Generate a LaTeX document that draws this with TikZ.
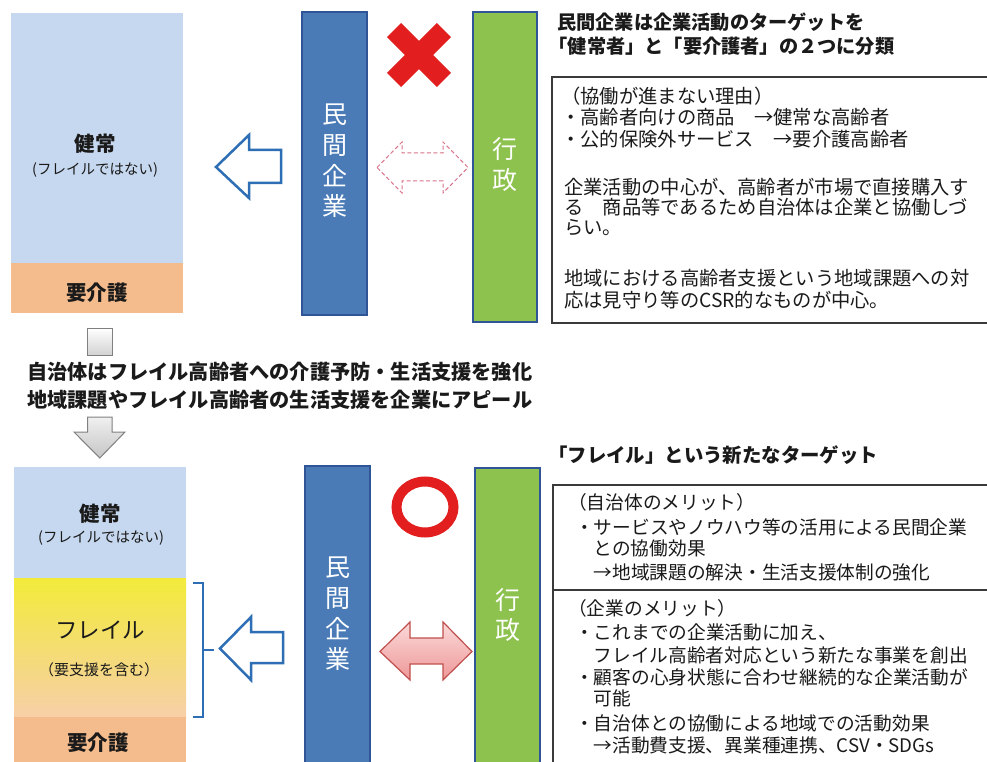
\documentclass[tikz,border=0pt]{standalone}
\usepackage{fontspec}
\setmainfont{Noto Sans CJK JP}
\definecolor{lblue}{HTML}{C6D8EF}
\definecolor{lorange}{HTML}{F4BB8C}
\definecolor{barblue}{HTML}{4A7BB7}
\definecolor{barborder}{HTML}{2F5597}
\definecolor{bargreen}{HTML}{8DC24E}
\definecolor{arrblue}{HTML}{2E6EB5}
\definecolor{xred}{HTML}{E21E1E}
\definecolor{fyellow}{HTML}{F2EB3A}
\definecolor{fpeach}{HTML}{F7CFA8}
\definecolor{dashpink}{HTML}{D9748A}
\definecolor{pinktop}{HTML}{FBD9D9}
\definecolor{pinkbot}{HTML}{EE9898}
\definecolor{pinkline}{HTML}{C0504D}
\definecolor{txt}{HTML}{1A1A1A}
\definecolor{boxline}{HTML}{3A3A3A}
\tikzset{
  body/.style={anchor=base west, inner sep=0pt, text=txt, font=\fontsize{19.3}{22}\selectfont},
  bodyb/.style={anchor=base west, inner sep=0pt, text=txt, font=\fontsize{18.7}{22}\selectfont},
  headline/.style={anchor=base west, inner sep=0pt, text=txt, font=\bfseries\fontsize{19.2}{22}\selectfont},
  midline/.style={anchor=base west, inner sep=0pt, text=txt, font=\bfseries\fontsize{20.2}{24}\selectfont},
  biglabel/.style={anchor=base, inner sep=0pt, text=txt, font=\bfseries\fontsize{20.5}{24}\selectfont},
  smalllabel/.style={anchor=base, inner sep=0pt, text=txt, font=\fontsize{14.5}{17}\selectfont},
  bartext/.style={inner sep=0pt, text=white, align=center, font=\fontsize{25}{30.7}\selectfont},
  bluebar/.style={fill=barblue, draw=barborder, line width=1.5pt},
  greenbar/.style={fill=bargreen, draw=barborder, line width=2pt},
  outarrow/.style={draw=arrblue, fill=white, line width=2.5pt, line join=miter},
  textbox/.style={draw=boxline, line width=1.4pt},
}
\begin{document}
\begin{tikzpicture}[x=1pt,y=-1pt]
\useasboundingbox (0,0) rectangle (987,762);
\fill[white] (0,0) rectangle (987,762);

% ===== TOP HALF =====
% left population box
\fill[lblue] (10.5,13) rectangle (183,263);
\fill[lorange] (10.5,263) rectangle (183,313);
\node[biglabel] (kenjo1) at (95,152) {健常};
\node[smalllabel] (notfrail1) at (95,175) {(フレイルではない)};
\node[biglabel] (yokaigo1) at (97,300) {要介護};

% outline arrow (top)
\draw[outarrow] (216,167) -- (249,135) -- (249,150) -- (281,150) -- (281,183) -- (249,183) -- (249,198) -- cycle;

% bars
\draw[bluebar] (302,12) rectangle (367,315);
\node[bartext] (minkan1) at (334.5,161) {民\\間\\企\\業};
\draw[greenbar] (472.5,12) rectangle (537,322);
\node[bartext, font=\fontsize{25}{31}\selectfont] (gyosei1) at (505,164.5) {行\\政};

% red X
\draw[xred, line width=20pt] (394.1,30.1) -- (443.9,79.9);
\draw[xred, line width=20pt] (443.9,30.1) -- (394.1,79.9);

% dashed double arrow
\draw[dashpink, line width=1pt, dash pattern=on 4pt off 2.5pt]
  (377,167.5) -- (402,142) -- (402,153) -- (443,153) -- (443,142) -- (468,167.5)
  -- (443,193) -- (443,181) -- (402,181) -- (402,193) -- cycle;

% title and text box
\node[headline] (t1a) at (557,30) {民間企業は企業活動のターゲットを};
\node[headline] (t1b) at (548.5,54) {「健常者」と「要介護者」の２つに分類};
\draw[textbox] (995,77) -- (552,77) -- (552,323) -- (995,323);
\node[body] (r1) at (561,104) {（協働が進まない理由）};
\node[body] (r2) at (561,125) {・高齢者向けの商品　→健常な高齢者};
\node[body] (r3) at (561,147) {・公的保険外サービス　→要介護高齢者};
\node[body] (r4) at (564,194) {企業活動の中心が、高齢者が市場で直接購入す};
\node[body] (r5) at (564,214) {る　商品等であるため自治体は企業と協働しづ};
\node[body] (r6) at (564,234) {らい。};
\node[body] (r7) at (564,285) {地域における高齢者支援という地域課題への対};
\node[body] (r8) at (564,307) {応は見守り等のCSR的なものが中心。};

% ===== MIDDLE =====
\draw[draw=gray, line width=1pt, top color=white, bottom color=gray!35] (87.5,328) rectangle (112,355);
\node[midline] (m1) at (27,379.5) {自治体はフレイル高齢者への介護予防・生活支援を強化};
\node[midline] (m2) at (27,407.5) {地域課題やフレイル高齢者の生活支援を企業にアピール};
\draw[draw=gray, line width=1pt, top color=gray!12, bottom color=gray!45, line join=miter]
  (87.5,417) -- (112,417) -- (112,432) -- (125,432) -- (99.8,458) -- (74,432) -- (87.5,432) -- cycle;

% ===== BOTTOM HALF =====
\fill[lblue] (14,467) rectangle (186,578);
\shade[top color=fyellow, bottom color=fpeach] (14,578) rectangle (186,717);
\fill[lorange] (14,717) rectangle (186,770);
\node[biglabel] (kenjo2) at (100,521) {健常};
\node[smalllabel] (notfrail2) at (101,542) {(フレイルではない)};
\node[biglabel, font=\fontsize{22.5}{26}\selectfont] (frail) at (100,638) {フレイル};
\node[smalllabel, font=\fontsize{15}{17}\selectfont] (yoshien) at (99,675.5) {（要支援を含む）};
\node[biglabel] (yokaigo2) at (98,750) {要介護};

% bracket
\draw[arrblue, line width=1.4pt] (193,583) -- (203,583) -- (203,717) -- (193,717);
\draw[arrblue, line width=1.4pt] (203,650) -- (214,650);

% outline arrow (bottom)
\draw[outarrow] (220,648.5) -- (251,617) -- (251,632) -- (283,632) -- (283,663) -- (251,663) -- (251,680) -- cycle;

% bars
\draw[bluebar] (305,466) rectangle (370,775);
\node[bartext] (minkan2) at (337.5,614) {民\\間\\企\\業};
\draw[greenbar] (475,468) rectangle (540,775);
\node[bartext, font=\fontsize{25}{30}\selectfont] (gyosei2) at (507.5,615) {行\\政};

% red circle
\draw[xred, line width=10pt] (425,507) ellipse [x radius=28.5pt, y radius=25.5pt];

% pink double arrow
\draw[pinkline, line width=1.2pt, top color=pinktop, bottom color=pinkbot, line join=miter]
  (380,651.5) -- (410,622) -- (410,638) -- (443,638) -- (443,622) -- (472,651.5)
  -- (443,680) -- (443,664) -- (410,664) -- (410,680) -- cycle;

% title and text box
\node[headline, font=\bfseries\fontsize{19.4}{22}\selectfont] (t2) at (548,462) {「フレイル」という新たなターゲット};
\draw[textbox] (995,485) -- (553,485) -- (553,775);
\draw[textbox] (553,590) -- (995,590);
\node[bodyb] (b1) at (568,509) {（自治体のメリット）};
\node[bodyb] (b2) at (575,534) {・サービスやノウハウ等の活用による民間企業};
\node[bodyb] (b3) at (593.5,555) {との協働効果};
\node[bodyb] (b4) at (593.5,579) {→地域課題の解決・生活支援体制の強化};
\node[bodyb] (b5) at (568,615) {（企業のメリット）};
\node[bodyb] (b6) at (575,639) {・これまでの企業活動に加え、};
\node[bodyb] (b7) at (593.5,662) {フレイル高齢者対応という新たな事業を創出};
\node[bodyb] (b8) at (575,684) {・顧客の心身状態に合わせ継続的な企業活動が};
\node[bodyb] (b9) at (593.5,705) {可能};
\node[bodyb] (b10) at (575,730) {・自治体との協働による地域での活動効果};
\node[bodyb] (b11) at (593.5,752) {→活動費支援、異業種連携、CSV・SDGs};
\end{tikzpicture}
\end{document}
